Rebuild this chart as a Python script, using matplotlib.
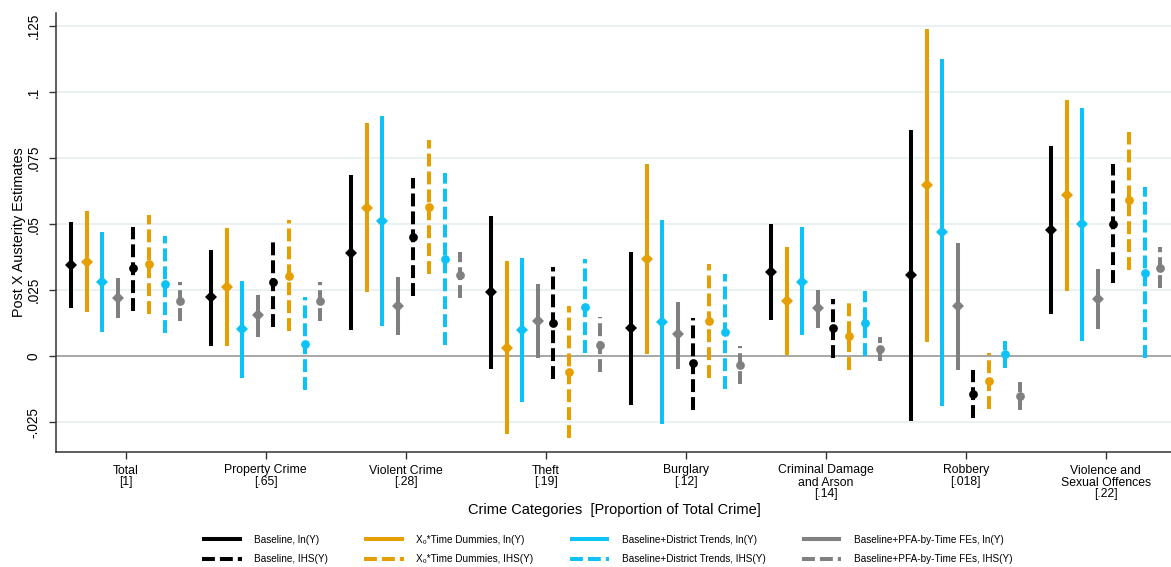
import matplotlib
matplotlib.use("Agg")
import matplotlib.pyplot as plt
from matplotlib.lines import Line2D
import numpy as np

plt.rcParams['font.family'] = ['Liberation Sans', 'DejaVu Sans']

categories = ["Total\n[1]", "Property Crime\n[.65]", "Violent Crime\n[.28]", "Theft\n[.19]",
              "Burglary\n[.12]", "Criminal Damage\nand Arson\n[.14]", "Robbery\n[.018]",
              "Violence and\nSexual Offences\n[.22]"]

# point estimates and 95% CI bounds, one list per specification
base_ln = [0.0345, 0.0223, 0.0392, 0.0243, 0.0106, 0.0318, 0.0306, 0.0477]
base_ln_lo = [0.0181, 0.0040, 0.0099, -0.0048, -0.0184, 0.0137, -0.0245, 0.0159]
base_ln_hi = [0.0509, 0.0404, 0.0685, 0.0532, 0.0393, 0.0499, 0.0855, 0.0795]

x0_ln = [0.0358, 0.0263, 0.0563, 0.0033, 0.0367, 0.0209, 0.0648, 0.0610]
x0_ln_lo = [0.0166, 0.0040, 0.0244, -0.0295, 0.0009, 0.0005, 0.0055, 0.0247]
x0_ln_hi = [0.0549, 0.0486, 0.0882, 0.0359, 0.0726, 0.0412, 0.1237, 0.0971]

trend_ln = [0.0282, 0.0102, 0.0511, 0.0099, 0.0131, 0.0282, 0.0469, 0.0499]
trend_ln_lo = [0.0093, -0.0081, 0.0116, -0.0174, -0.0256, 0.0081, -0.0187, 0.0058]
trend_ln_hi = [0.0469, 0.0285, 0.0908, 0.0372, 0.0515, 0.0488, 0.1125, 0.0941]

pfa_ln = [0.0222, 0.0155, 0.0190, 0.0133, 0.0083, 0.0181, 0.0190, 0.0217]
pfa_ln_lo = [0.0144, 0.0074, 0.0081, -0.0008, -0.0048, 0.0106, -0.0052, 0.0103]
pfa_ln_hi = [0.0295, 0.0232, 0.0299, 0.0273, 0.0206, 0.0251, 0.0427, 0.0330]

base_ihs = [0.0333, 0.0280, 0.0451, 0.0126, -0.0026, 0.0106, -0.0143, 0.0500]
base_ihs_lo = [0.0171, 0.0110, 0.0228, -0.0087, -0.0203, -0.0008, -0.0234, 0.0276]
base_ihs_hi = [0.0490, 0.0431, 0.0675, 0.0339, 0.0144, 0.0217, -0.0052, 0.0726]

x0_ihs = [0.0348, 0.0305, 0.0566, -0.0060, 0.0135, 0.0077, -0.0092, 0.0593]
x0_ihs_lo = [0.0160, 0.0097, 0.0311, -0.0310, -0.0081, -0.0052, -0.0199, 0.0326]
x0_ihs_hi = [0.0534, 0.0515, 0.0820, 0.0190, 0.0349, 0.0200, 0.0014, 0.0849]

trend_ihs = [0.0272, 0.0046, 0.0367, 0.0188, 0.0091, 0.0125, 0.0008, 0.0316]
trend_ihs_lo = [0.0089, -0.0127, 0.0043, 0.0011, -0.0125, 0.0001, -0.0045, -0.0008]
trend_ihs_hi = [0.0456, 0.0225, 0.0692, 0.0367, 0.0310, 0.0248, 0.0059, 0.0639]

pfa_ihs = [0.0209, 0.0209, 0.0307, 0.0043, -0.0033, 0.0026, -0.0150, 0.0336]
pfa_ihs_lo = [0.0135, 0.0135, 0.0222, -0.0060, -0.0106, -0.0018, -0.0203, 0.0257]
pfa_ihs_hi = [0.0280, 0.0282, 0.0393, 0.0147, 0.0040, 0.0072, -0.0098, 0.0414]

labels = ["Baseline, ln(Y)", "X\u2080*Time Dummies, ln(Y)", "Baseline+District Trends, ln(Y)",
          "Baseline+PFA-by-Time FEs, ln(Y)", "Baseline, IHS(Y)", "X\u2080*Time Dummies, IHS(Y)",
          "Baseline+District Trends, IHS(Y)", "Baseline+PFA-by-Time FEs, IHS(Y)"]

series = [(base_ln, base_ln_lo, base_ln_hi), (x0_ln, x0_ln_lo, x0_ln_hi),
          (trend_ln, trend_ln_lo, trend_ln_hi), (pfa_ln, pfa_ln_lo, pfa_ln_hi),
          (base_ihs, base_ihs_lo, base_ihs_hi), (x0_ihs, x0_ihs_lo, x0_ihs_hi),
          (trend_ihs, trend_ihs_lo, trend_ihs_hi), (pfa_ihs, pfa_ihs_lo, pfa_ihs_hi)]

colors = ['black', '#E69F00', '#0DC2F6', '#808080'] * 2
dash = (0, (3.2, 1.25))

W, H = 1171, 567
fig = plt.figure(figsize=(W / 100, H / 100), dpi=100)
# axes placed in pixels; right side runs past the canvas like the original crop
ax = fig.add_axes([55.7 / W, 1 - 452 / H, 1120 / W, (452 - 12.7) / H])

xpos = np.arange(1, len(categories) + 1)
step = 0.111
for i, (est, lo, hi) in enumerate(series):
    est = np.array(est); lo = np.array(lo); hi = np.array(hi)
    x = xpos + (i - 3.5) * step
    ihs = i >= 4
    ax.vlines(x, lo, hi, colors=colors[i], linewidth=2.9,
              linestyles=dash if ihs else 'solid', capstyle='butt', zorder=3)
    ax.plot(x, est, linestyle='none', marker='o' if ihs else 'D',
            markersize=6.3 if ihs else 6.2, color=colors[i], markeredgewidth=0, zorder=4)

ax.set_xlim(0.5, 8.5)
ax.set_ylim(-0.0362, 0.130)
yt = [-0.025, 0, 0.025, 0.05, 0.075, 0.1, 0.125]
ax.set_yticks(yt)
ax.set_yticklabels(["-.025", "0", ".025", ".05", ".075", ".1", ".125"], rotation=90, va='center')
ax.yaxis.grid(True, color='#e6eff1', linewidth=1.2, zorder=0)
ax.set_axisbelow(True)
ax.axhline(0, color='#9a9a9a', linewidth=1.2, zorder=2)
ax.set_xticks(xpos)
ax.set_xticklabels(categories, fontsize=8.8, linespacing=1.0, va='top')
ax.tick_params(axis='y', labelsize=9.8, length=5, width=1, color='#333333', pad=6)
ax.tick_params(axis='x', length=5, width=1, color='#333333', pad=4)
for s in ['top', 'right']:
    ax.spines[s].set_visible(False)
for s in ['left', 'bottom']:
    ax.spines[s].set_color('#333333')
    ax.spines[s].set_linewidth(1.1)

ax.set_ylabel("Post X Austerity Estimates", fontsize=10.4, labelpad=0)
fig.text(614.7 / W, 1 - 510 / H, "Crime Categories  [Proportion of Total Crime]",
         fontsize=10.5, ha='center', va='center')

handles = []
order = [0, 4, 1, 5, 2, 6, 3, 7]
for i in order:
    handles.append(Line2D([], [], color=colors[i], linewidth=2.9,
                          linestyle=dash if i >= 4 else 'solid',
                          solid_capstyle='butt', dash_capstyle='butt'))
fig.legend(handles, [labels[i] for i in order], ncol=4, loc='center',
           bbox_to_anchor=(607.2 / W, 1 - 549.5 / H), frameon=False, fontsize=7.2,
           handlelength=3.95, handletextpad=1.27, columnspacing=3.6, labelspacing=0.95,
           borderpad=0)

fig.savefig("out.png", dpi=100)
